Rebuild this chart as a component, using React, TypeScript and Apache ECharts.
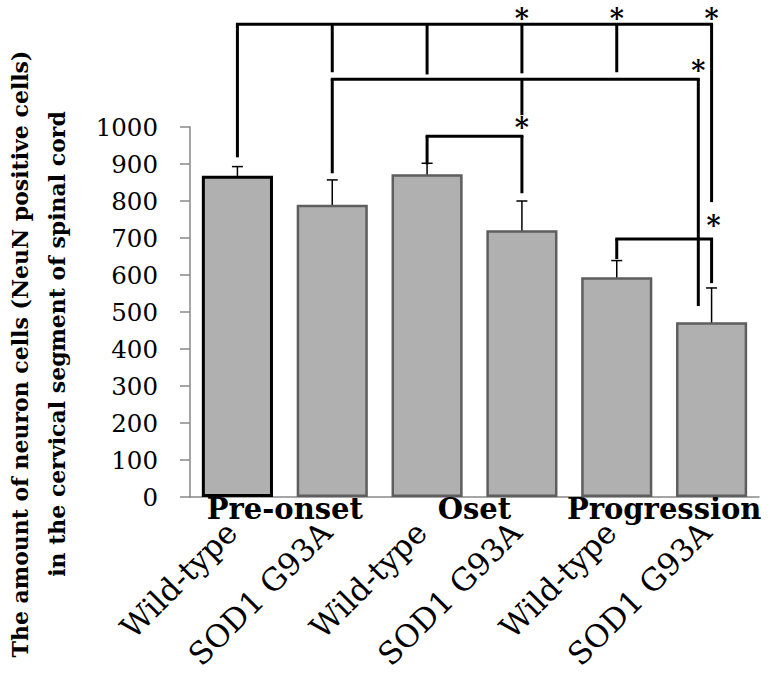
import React, { useEffect, useRef } from 'react';
import * as echarts from 'echarts';

const categories = ['Wild-type', 'SOD1 G93A', 'Wild-type', 'SOD1 G93A', 'Wild-type', 'SOD1 G93A'];
const groups = ['Pre-onset', 'Oset', 'Progression'];
const means = [868, 790, 872, 721, 594, 472];
const errors = [25, 67, 30, 79, 45, 93];
const yMin = 0;
const yMax = 1000;
const yInterval = 100;

// significance brackets: level (y value of the horizontal bar) and legs [x category, bottom value]
const bracketLevels = [1278, 1129, 975, 697];
const bracketLegs = [
  [[0, 918], [1, 1148], [2, 1142], [3, 1145], [4, 1148], [5, 797]],
  [[1, 875], [3, 1032], [4.86, 516]],
  [[2, 899], [3, 821]],
  [[4, 643], [5, 578]],
];
const starX = [3, 4, 5, 4.86, 3, 5.02];
const starY = [1300, 1300, 1300, 1158, 1005, 740];

const titleLine1 = 'The amount of neuron cells (NeuN positive cells)';
const titleLine2 = 'in the cervical segment of spinal cord';

const SERIF = 'DejaVu Serif';

function px(api: any, xv: number, yv: number) {
  const i = Math.floor(xv);
  const f = xv - i;
  const p = api.coord([i, yv]);
  const w = api.size([1, 0])[0];
  return [p[0] + f * w, p[1]];
}

export default function App() {
  const ref = useRef<HTMLDivElement>(null);
  useEffect(() => {
    document.body.style.margin = '0';
    const chart = echarts.init(ref.current!, null, { renderer: 'svg' });
    const option: any = {
      animation: false,
      backgroundColor: '#ffffff',
      grid: { left: 190, right: 11, top: 127, bottom: 176 },
      graphic: [
        {
          type: 'text', x: 20, y: 354, rotation: Math.PI / 2,
          style: { text: titleLine1, fontFamily: SERIF, fontSize: 22, fontWeight: 'bold', fill: '#000', textAlign: 'center', textVerticalAlign: 'middle' },
        },
        {
          type: 'text', x: 57, y: 344, rotation: Math.PI / 2,
          style: { text: titleLine2, fontFamily: SERIF, fontSize: 22, fontWeight: 'bold', fill: '#000', textAlign: 'center', textVerticalAlign: 'middle' },
        },
      ],
      xAxis: [
        {
          type: 'category',
          data: categories,
          axisLine: { show: true, lineStyle: { color: '#888', width: 1.5 } },
          axisTick: { show: false },
          axisLabel: { show: false },
        },
        {
          type: 'category',
          data: groups,
          position: 'bottom',
          axisLine: { show: false },
          axisTick: { show: false },
          axisLabel: { margin: -3, fontFamily: SERIF, fontSize: 29, fontWeight: 'bold', color: '#000', interval: 0 },
        },
      ],
      yAxis: {
        type: 'value',
        min: yMin,
        max: yMax,
        interval: yInterval,
        axisLine: { show: true, lineStyle: { color: '#888', width: 1.5 } },
        axisTick: { show: true, length: 10, lineStyle: { color: '#888', width: 1.5 } },
        splitLine: { show: false },
        axisLabel: { margin: 32, fontFamily: SERIF, fontSize: 24.5, color: '#000', formatter: (v: number) => String(v) },
      },
      series: [
        {
          type: 'bar',
          data: means.map((v, i) => ({
            value: v,
            itemStyle: i === 0 ? { borderColor: '#000', borderWidth: 3 } : undefined,
          })),
          barCategoryGap: '25%',
          itemStyle: { color: '#b0b0b0', borderColor: '#5e5e5e', borderWidth: 2.5 },
        },
        {
          type: 'custom',
          clip: false,
          data: means.map((m, i) => [i, m - errors[i], m + errors[i]]),
          renderItem: (params: any, api: any) => {
            const x = api.value(0);
            const lo = api.coord([x, api.value(1)]);
            const hi = api.coord([x, api.value(2)]);
            const c = 5.5;
            const st = { stroke: '#000', lineWidth: 1.5 };
            return {
              type: 'group',
              children: [
                { type: 'line', shape: { x1: lo[0], y1: lo[1], x2: hi[0], y2: hi[1] }, style: st },
                { type: 'line', shape: { x1: lo[0] - c, y1: lo[1], x2: lo[0] + c, y2: lo[1] }, style: st },
                { type: 'line', shape: { x1: hi[0] - c, y1: hi[1], x2: hi[0] + c, y2: hi[1] }, style: st },
              ],
            };
          },
        },
        {
          type: 'custom',
          clip: false,
          data: bracketLevels.map((lv, k) => [k, lv]),
          renderItem: (params: any, api: any) => {
            const k = params.dataIndex;
            const lv = bracketLevels[k];
            const legs = bracketLegs[k];
            const st = { stroke: '#000', lineWidth: 3, lineCap: 'square' };
            const children: any[] = [];
            const xs = legs.map((l) => px(api, l[0], lv)[0]);
            const yTop = px(api, legs[0][0], lv)[1];
            children.push({ type: 'line', shape: { x1: Math.min(...xs), y1: yTop, x2: Math.max(...xs), y2: yTop }, style: st });
            legs.forEach((l) => {
              const b = px(api, l[0], l[1]);
              children.push({ type: 'line', shape: { x1: b[0], y1: yTop, x2: b[0], y2: b[1] }, style: { stroke: '#000', lineWidth: 3 } });
            });
            return { type: 'group', children };
          },
        },
        {
          type: 'custom',
          clip: false,
          data: starX.map((x, i) => [x, starY[i]]),
          renderItem: (params: any, api: any) => {
            const i = params.dataIndex;
            const p = px(api, starX[i], starY[i]);
            return {
              type: 'text',
              x: p[0],
              y: p[1] + 2,
              style: { text: '*', fontFamily: SERIF, fontSize: 27, fontWeight: 'bold', fill: '#000', textAlign: 'center', textVerticalAlign: 'middle' },
            };
          },
        },
        {
          type: 'custom',
          clip: false,
          data: categories.map((c, i) => [i, 0]),
          renderItem: (params: any, api: any) => {
            const i = params.dataIndex;
            const p = api.coord([i, 0]);
            return {
              type: 'text',
              x: p[0] - 6,
              y: p[1] + 30,
              rotation: Math.PI / 4,
              style: { text: categories[i], fontFamily: SERIF, fontSize: 31, fill: '#000', textAlign: 'right', textVerticalAlign: 'middle' },
            };
          },
        },
      ],
    };
    chart.setOption(option);
    return () => chart.dispose();
  }, []);
  return <div ref={ref} style={{ width: 770, height: 673 }} />;
}
